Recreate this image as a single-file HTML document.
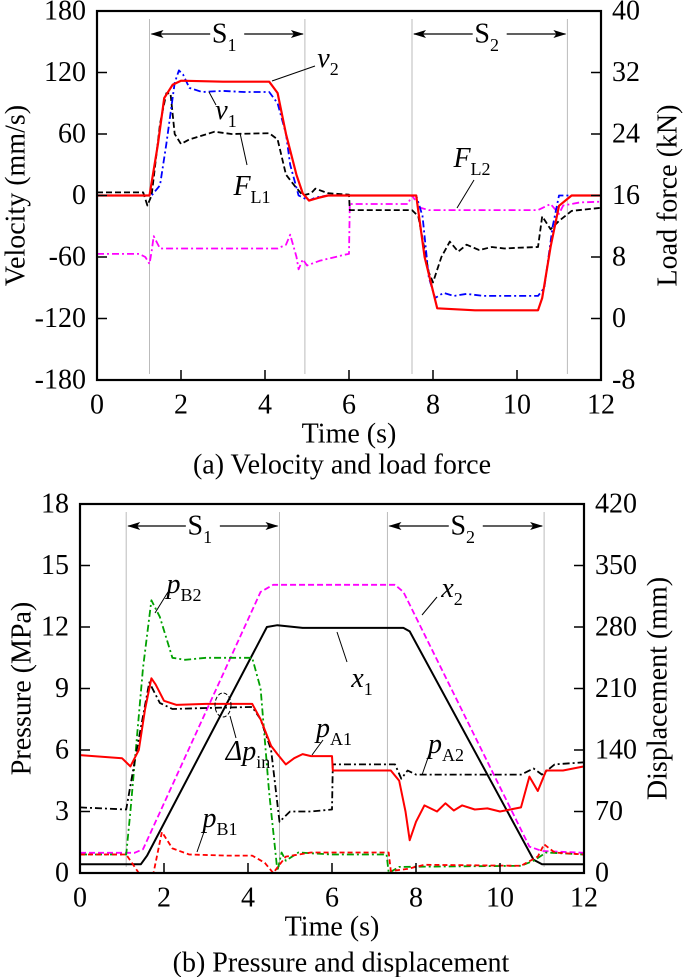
<!DOCTYPE html>
<html><head><meta charset="utf-8">
<style>
html,body{margin:0;padding:0;background:#fff;}
svg{display:block;font-family:"Liberation Serif",serif;}
</style></head>
<body>
<svg id="chart" width="685" height="977" viewBox="0 0 685 977" xmlns="http://www.w3.org/2000/svg">
<g id="g"></g>
</svg>
<script>
// ===== Panel (a) data =====
const v2T=[0,1.25,1.45,1.6,1.8,2.0,3,4.1,4.3,4.5,4.75,4.9,5.05,5.3,5.5,7.6,7.8,8.1,9,10.5,10.6,10.8,11.0,11.3,12];
const v2V=[0,0,50,95,108,112,111,111,100,60,20,2,-5,-2,0,0,-60,-110,-112,-112,-100,-50,-10,0,0];
const v1T=[0,1.3,1.5,1.65,1.85,1.95,2.05,2.2,2.5,3,3.5,4.1,4.3,4.5,4.6,4.8,5.05,5.2,5.5,7.6,7.75,7.9,8.05,8.25,8.5,8.8,9.2,10.5,10.65,10.85,11.0,12];
const v1V=[0,0,10,50,110,122,118,105,101,102,101,101,90,60,30,0,-5,-2,0,0,-20,-80,-100,-95,-98,-96,-98,-98,-90,-30,0,0];
const fl1T=[0,1.1,1.2,1.3,1.5,1.65,1.75,1.85,2.0,2.2,2.8,3.2,4.1,4.3,4.5,4.7,4.9,5.1,5.2,5.5,6.0,6.02,7.5,7.65,7.9,8.0,8.2,8.4,8.6,8.8,9.1,9.4,9.7,10.0,10.5,10.6,10.8,11.0,11.3,12];
const fl1V=[16.4,16.4,14.7,16,25.3,29.3,29.3,24,22.7,23.3,24.3,24,24.1,23.3,18.7,17.3,16,16.3,16.9,16.3,16.1,14.1,14.1,13.3,6,4.7,8,10,8.7,9.6,8.9,9.3,9.1,9.2,9.3,13.3,11.6,12.7,14,14.4];
const fl2T=[0,1.0,1.15,1.25,1.3,1.35,1.5,4.3,4.5,4.6,4.75,4.8,4.9,5.0,5.3,5.9,6.0,6.02,7.4,7.5,7.7,7.9,10.5,10.8,11.0,11.1,11.5,12];
const fl2V=[8.4,8.4,8,7.1,8.7,10.7,9.1,9.1,9.6,10.9,8,6.4,7.7,6.9,7.5,8.3,8.4,14.9,14.9,16,14.4,14.1,14.1,14.9,13.6,14.7,15.1,15.2];
const velTicks=[-180,-120,-60,0,60,120,180];
const forceTicks=[-8,0,8,16,24,32,40];
const timeTicks=[0,2,4,6,8,10,12];
const stageA=[1.25,4.95,7.5,11.2];
// ===== Panel (b) data =====
const x1T=[0,1.45,1.6,4.45,4.7,5.3,7.7,7.85,10.8,11.0,12];
const x1V=[10,10,20,280,282,279,279,275,15,10,10];
const x2T=[0,1.3,1.5,4.3,4.6,7.5,7.7,10.7,11.0,12];
const x2V=[23,23,27,320,328,328,320,30,25,23];
const pA1T=[0,1.0,1.2,1.4,1.55,1.7,1.8,2.0,2.3,3,4.1,4.3,4.55,4.7,4.9,5.1,5.3,5.5,6.0,6.02,7.4,7.6,7.75,7.85,8.0,8.2,8.5,8.7,8.9,9.1,9.4,9.7,10.0,10.5,10.7,10.9,11.1,11.5,12];
const pA1V=[5.75,5.6,5.2,6,8,9.5,9.2,8.4,8.2,8.25,8.25,7.5,6.2,5.8,5.3,5.6,5.8,5.7,5.7,5.0,5.0,4.5,3,1.6,2.5,3.3,3.0,3.4,3.05,3.3,3.1,3.15,3.0,3.2,4.7,4.0,5.0,5.0,5.2];
const dpT=[0,1.1,1.35,1.65,1.9,2.2,3.0,4.1,4.3,4.55,4.75,5.0,5.5,6.0,6.02,7.5,7.65,7.8,8.0,10.5,10.8,11.0,11.3,12];
const dpV=[3.2,3.1,6,9.3,8.3,8.0,8.05,8.1,7.5,6,2.5,3.0,3.0,3.1,5.3,5.3,4.6,5.0,4.8,4.8,5.1,4.8,5.3,5.4];
const pB2T=[0,1.1,1.2,1.5,1.7,1.9,2.2,2.5,3,4.1,4.3,4.5,4.7,4.8,4.9,5.2,6,7.3,7.35,7.6,10.5,10.8,11.1,12];
const pB2V=[0.9,0.9,3,10,13.3,12.5,10.5,10.4,10.5,10.5,9,4,0.1,1,0.6,1,0.9,0.9,0,0.3,0.35,0.6,1.0,0.9];
const pB1T=[0,1.1,1.4,1.75,1.95,2.2,2.6,3.5,4.1,4.4,4.6,4.9,5.5,7.35,7.4,7.8,8.2,10.5,10.9,11.05,11.3,12];
const pB1V=[0.9,0.9,0,0,2,1.2,0.9,0.85,0.85,0.5,0,0.8,1.0,1.0,0.1,0.2,0.4,0.35,0.8,1.4,1.0,0.9];
const presTicks=[0,3,6,9,12,15,18];
const dispTicks=[0,70,140,210,280,350,420];
const stageB=[1.1,4.75,7.32,11.05];

const NS="http://www.w3.org/2000/svg";
const root=document.getElementById('g');
function mk(tag,attrs,parent){const e=document.createElementNS(NS,tag);for(const k in attrs)e.setAttribute(k,attrs[k]);(parent||root).appendChild(e);return e;}
function txt(x,y,s,size,anchor,parent){const e=mk('text',{x:x,y:y,'font-size':size,'text-anchor':anchor||'middle','dominant-baseline':'central',fill:'#000'},parent);e.textContent=s;return e;}

function panel(P){
  const gp=mk('g',{});
  
  
  const sx=t=>P.x0+(t-0)/12*(P.x1-P.x0);
  const syL=v=>P.y1-(v-P.lmin)/(P.lmax-P.lmin)*(P.y1-P.y0);
  const syR=v=>P.y1-(v-P.rmin)/(P.rmax-P.rmin)*(P.y1-P.y0);
  P.stages.forEach(t=>{const l=mk('line',{x1:sx(t),x2:sx(t),y1:P.y0+8,y2:P.y1-6,stroke:'#bbb','stroke-width':1},gp);
    
    });
  const ay=P.arrowY;
  [[0,1,'S1'],[2,3,'S2']].forEach(([a,b,lab])=>{
    const xa=sx(P.stages[a]),xb=sx(P.stages[b]),xm=(xa+xb)/2;
    const ga=mk('g',{},gp);
    
    
    mk('line',{x1:xa+2,x2:xm-17,y1:ay,y2:ay,stroke:'#000','stroke-width':1.3},ga);
    mk('line',{x1:xm+17,x2:xb-2,y1:ay,y2:ay,stroke:'#000','stroke-width':1.3},ga);
    mk('path',{d:`M${xa+1},${ay} l13,-4 l-3,4 l3,4 z`,fill:'#000'},ga);
    mk('path',{d:`M${xb-1},${ay} l-13,-4 l3,4 l-3,4 z`,fill:'#000'},ga);
    const t=mk('text',{x:xm-3,y:ay,'font-size':28,'text-anchor':'middle','dominant-baseline':'central'},ga);
    t.textContent='S';
    const s=mk('tspan',{'font-size':18,dy:11},t);s.textContent=lab[1];
  });
  P.series.forEach(S=>{
    const sy=S.axis==='L'?syL:syR;
    const d=S.t.map((t,i)=>(i?'L':'M')+sx(t).toFixed(1)+','+sy(S.v[i]).toFixed(1)).join(' ');
    const p=mk('path',{d:d,fill:'none',stroke:S.color,'stroke-width':S.w||1.8,'stroke-dasharray':S.dash||'none','stroke-linejoin':'round'},gp);
    
    
  });
  const fr=mk('rect',{x:P.x0,y:P.y0,width:P.x1-P.x0,height:P.y1-P.y0,fill:'none',stroke:'#000','stroke-width':2.2},gp);
  
  
  P.lt.forEach(v=>{const y=syL(v);mk('line',{x1:P.x0,x2:P.x0+10,y1:y,y2:y,stroke:'#000','stroke-width':1.5},gp);
    const t=txt(P.x0-11,y,String(v),28,'end',gp);
    
    });
  P.rt.forEach(v=>{const y=syR(v);mk('line',{x1:P.x1-10,x2:P.x1,y1:y,y2:y,stroke:'#000','stroke-width':1.5},gp);
    const t=txt(P.x1+11,y,String(v),28,'start',gp);
    
    });
  timeTicks.forEach(v=>{const x=sx(v);mk('line',{x1:x,x2:x,y1:P.y1,y2:P.y1-10,stroke:'#000','stroke-width':1.5},gp);
    const t=txt(x,P.y1+25,String(v),28,'middle',gp);
    
    });
  const xt=txt((P.x0+P.x1)/2,P.y1+54,'Time (s)',28,'middle',gp);
  
  
  const lt=mk('text',{x:0,y:0,'font-size':28,'text-anchor':'middle','dominant-baseline':'central',transform:`translate(${P.ltx},${(P.y0+P.y1)/2}) rotate(-90)`},gp);
  lt.textContent=P.ltitle;
  
  
  const rtt=mk('text',{x:0,y:0,'font-size':28,'text-anchor':'middle','dominant-baseline':'central',transform:`translate(${P.rtx},${(P.y0+P.y1)/2}) rotate(-90)`},gp);
  rtt.textContent=P.rtitle;
  
  
  const cp=txt(P.capX,P.capY,P.caption,28,'middle',gp);
  
  
}

panel({name:'velocity-load-panel',x0:97,x1:601,y0:11,y1:380,lmin:-180,lmax:180,rmin:-8,rmax:40,
  lt:velTicks,rt:forceTicks,stages:stageA,arrowY:34,ltx:16,rtx:668,ltitle:'Velocity (mm/s)',rtitle:'Load force (kN)',
  caption:'(a) Velocity and load force',capX:342,capY:465,
  series:[
   {name:'fl2-line',t:fl2T,v:fl2V,axis:'R',color:'#ff00ff',dash:'7,3,2,3'},
   {name:'fl1-line',t:fl1T,v:fl1V,axis:'R',color:'#000',dash:'6,3'},
   {name:'v1-line',t:v1T,v:v1V,axis:'L',color:'#0000ff',dash:'7,3,2,3'},
   {name:'v2-line',t:v2T,v:v2V,axis:'L',color:'#ff0000',w:2.2}]});

panel({name:'pressure-displacement-panel',x0:80,x1:584,y0:504,y1:873,lmin:0,lmax:18,rmin:0,rmax:420,
  lt:presTicks,rt:dispTicks,stages:stageB,arrowY:526,ltx:22,rtx:658,ltitle:'Pressure (MPa)',rtitle:'Displacement (mm)',
  caption:'(b) Pressure and displacement',capX:341,capY:963,
  series:[
   {name:'x2-line',t:x2T,v:x2V,axis:'R',color:'#ff00ff',dash:'6,3'},
   {name:'x1-line',t:x1T,v:x1V,axis:'R',color:'#000',w:2},
   {name:'pb2-line',t:pB2T,v:pB2V,axis:'L',color:'#00a000',dash:'7,3,2,3'},
   {name:'dp-in-line',t:dpT,v:dpV,axis:'L',color:'#000',dash:'7,3,2,3'},
   {name:'pb1-line',t:pB1T,v:pB1V,axis:'L',color:'#ff0000',dash:'5,3'},
   {name:'pa1-line',t:pA1T,v:pA1V,axis:'L',color:'#ff0000',w:2}]});

function ann(name,x,y,main,sub,lx1,ly1,lx2,ly2){
  const g=mk('g',{});
  
  
  mk('line',{x1:lx1,y1:ly1,x2:lx2,y2:ly2,stroke:'#000','stroke-width':1},g);
  const t=mk('text',{x:x,y:y,'font-size':28,'text-anchor':'middle','dominant-baseline':'central'},g);
  const m=mk('tspan',{'font-style':'italic'},t);m.textContent=main;
  const s=mk('tspan',{'font-size':18,dy:11},t);s.textContent=sub;
}
ann('v2-label',328,58,'v','2',272,81,315,66);
ann('v1-label',226,110,'v','1',209,92,216,105);
ann('fl1-label',252,186,'F','L1',240,133,247,165);
ann('fl2-label',472,158,'F','L2',474,180,457,208);
ann('pb2-label',184,584,'p','B2',168,592,155,613);
ann('x2-label',452,588,'x','2',437,597,422,615);
ann('x1-label',362,678,'x','1',337,632,347,662);
ann('dp-in-label',248,751,'Δp','in',230,716,236,738);
ann('pa1-label',334,728,'p','A1',323,740,312,755);
ann('pa2-label',446,744,'p','A2',430,752,422,775);
ann('pb1-label',220,818,'p','B1',205,829,197,852);
const el=mk('ellipse',{cx:223,cy:705,rx:8,ry:12,fill:'none',stroke:'#000','stroke-width':1,'stroke-dasharray':'4,2'});


</script>
</body></html>
